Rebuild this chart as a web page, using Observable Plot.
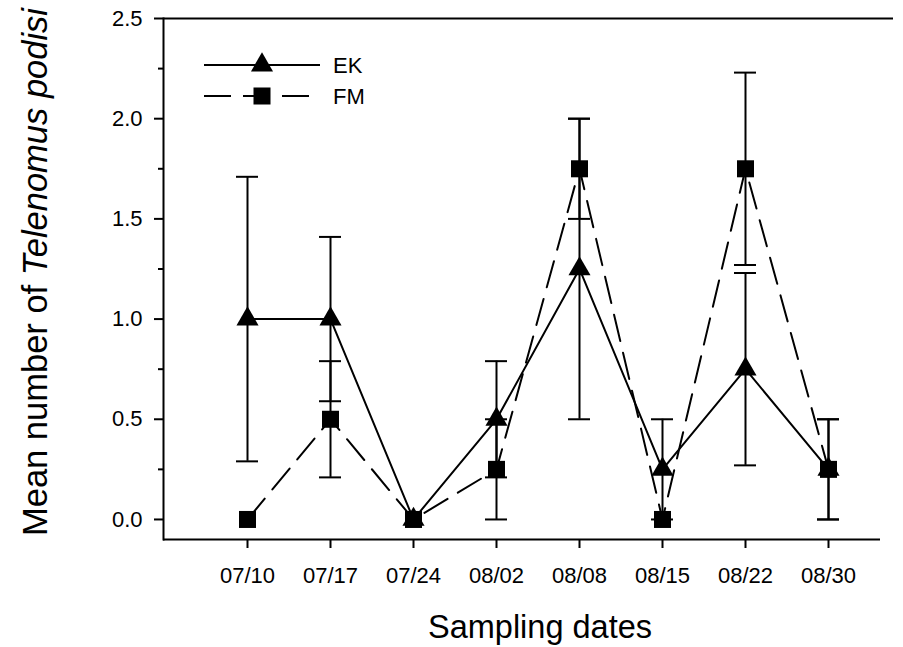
<!DOCTYPE html>
<html><head><meta charset="utf-8">
<script src="https://cdn.jsdelivr.net/npm/d3@7"></script>
<script src="https://cdn.jsdelivr.net/npm/@observablehq/plot@0.6"></script>
<style>body{margin:0;background:#fff} #chart{width:903px;height:647px}</style>
</head><body><div id="chart"></div>
<script>
const dates = ["07/10","07/17","07/24","08/02","08/08","08/15","08/22","08/30"];
const ekMean = [1.0, 1.0, 0, 0.5, 1.25, 0.25, 0.75, 0.25];
const ekSE   = [0.71, 0.41, 0, 0.29, 0.75, 0.25, 0.48, 0.25];
const fmMean = [0, 0.5, 0, 0.25, 1.75, 0, 1.75, 0.25];
const fmSE   = [0, 0.29, 0, 0.25, 0.25, 0, 0.48, 0.25];
const yTicks = [0, 0.5, 1.0, 1.5, 2.0, 2.5];
const yMinorTicks = [0.25, 0.75, 1.25, 1.75, 2.25];
const seriesNames = ["EK", "FM"];

const ek = dates.map((d, i) => ({date: d, mean: ekMean[i], se: ekSE[i]}));
const fm = dates.map((d, i) => ({date: d, mean: fmMean[i], se: fmSE[i]}));
const ekErr = ek.filter(d => d.se > 0);
const fmErr = fm.filter(d => d.se > 0);
const dash = "27,12";
const FONT = "'Liberation Sans', Arial, Helvetica, sans-serif";
const capInset = (83 - 22) / 2;

function errMarks(data) {
  return [
    Plot.ruleX(data, {x: "date", y1: d => d.mean - d.se, y2: d => d.mean + d.se, stroke: "black", strokeWidth: 2}),
    Plot.tickY(data, {x: "date", y: d => d.mean + d.se, stroke: "black", strokeWidth: 2, insetLeft: capInset, insetRight: capInset}),
    Plot.tickY(data, {x: "date", y: d => d.mean - d.se, stroke: "black", strokeWidth: 2, insetLeft: capInset, insetRight: capInset})
  ];
}

const plot = Plot.plot({
  width: 903,
  height: 647,
  marginLeft: 163,
  marginRight: 10,
  marginTop: 18,
  marginBottom: 108,
  style: {fontFamily: FONT, fontSize: "22px", color: "black", background: "white"},
  x: {type: "band", domain: dates, range: [205.5, 869.5], padding: 0, round: false, label: null},
  y: {domain: [-0.1, 2.5], label: null},
  marks: [
    Plot.ruleY([2.5], {stroke: "black", strokeWidth: 2}),
    Plot.ruleY([-0.1], {stroke: "black", strokeWidth: 2, insetRight: 13}),
    Plot.frame({anchor: "left", stroke: "black", strokeWidth: 2}),
    Plot.axisX({ticks: dates, tickSize: 9, tickPadding: 19, strokeWidth: 2, fontSize: 22}),
    Plot.axisY({ticks: yTicks, tickSize: 9, tickPadding: 12, tickFormat: d3.format(".1f"), strokeWidth: 2, fontSize: 22}),
    Plot.axisY({ticks: yMinorTicks, tickSize: 5, text: null, strokeWidth: 2}),
    Plot.line(ek, {x: "date", y: "mean", stroke: "black", strokeWidth: 2}),
    Plot.line(fm, {x: "date", y: "mean", stroke: "black", strokeWidth: 2, strokeDasharray: dash}),
    ...errMarks(ekErr),
    ...errMarks(fmErr),
    Plot.dot(ek, {x: "date", y: "mean", symbol: "triangle", r: 8.2, fill: "black", stroke: null}),
    Plot.dot(fm, {x: "date", y: "mean", symbol: "square", r: 9.6, fill: "black", stroke: null})
  ]
});

const svg = d3.select(plot);
// Axis titles
svg.append("text")
  .attr("transform", "translate(47,272) rotate(-90)")
  .attr("text-anchor", "middle")
  .attr("font-family", FONT).attr("font-size", 34.5).attr("fill", "black")
  .call(t => {
    t.append("tspan").text("Mean number of ");
    t.append("tspan").attr("font-style", "italic").text("Telenomus podisi");
  });
svg.append("text")
  .attr("x", 540).attr("y", 638)
  .attr("text-anchor", "middle")
  .attr("font-family", FONT).attr("font-size", 32.5).attr("fill", "black")
  .text("Sampling dates");

// Legend
const lg = svg.append("g");
const sym = [d3.symbol(d3.symbolTriangle, 8.2 * 8.2 * Math.PI), d3.symbol(d3.symbolSquare, 9.6 * 9.6 * Math.PI)];
seriesNames.forEach((name, i) => {
  const y = 65 + i * 31;
  lg.append("line").attr("x1", 204).attr("x2", 320).attr("y1", y).attr("y2", y)
    .attr("stroke", "black").attr("stroke-width", 2)
    .attr("stroke-dasharray", i === 1 ? dash : null);
  lg.append("path").attr("d", sym[i]()).attr("transform", `translate(262,${y})`).attr("fill", "black");
  lg.append("text").attr("x", 333).attr("y", y).attr("dy", "0.35em")
    .attr("text-anchor", "start")
    .attr("font-family", FONT).attr("font-size", 22).attr("fill", "black").text(name);
});

document.getElementById("chart").appendChild(plot);
</script>
</body></html>
